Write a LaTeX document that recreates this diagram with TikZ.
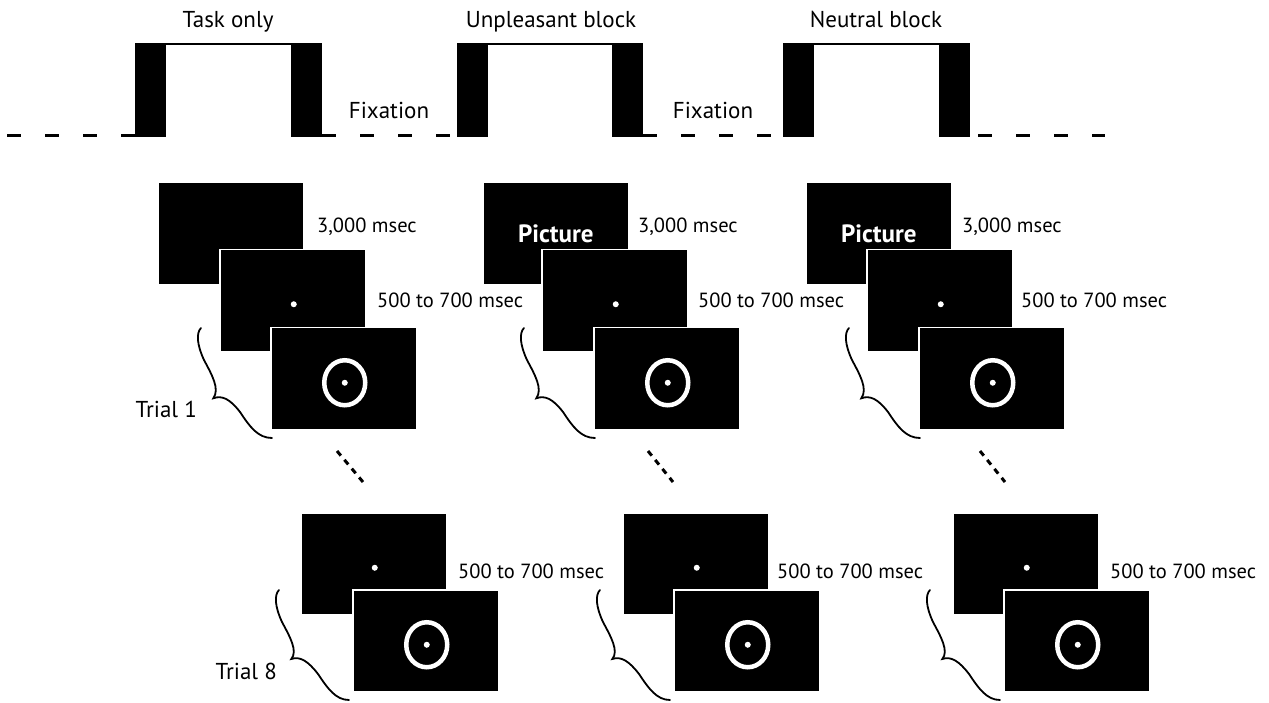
\documentclass[tikz,border=0pt]{standalone}
\usepackage{fontspec}
\setmainfont{PT Sans}
\usetikzlibrary{shapes.geometric}

\begin{document}
\begin{tikzpicture}[x=1pt, y=-1pt,
  screen/.style={draw=white, fill=black, line width=1.5, minimum width=146, minimum height=102, inner sep=0, anchor=north west},
  dot/.style={circle, fill=white, minimum size=6, inner sep=0},
  target/.style={ellipse, draw=white, line width=4.5, minimum width=41, minimum height=45, inner sep=0},
  bar/.style={fill=black, minimum width=31, minimum height=94, inner sep=0, anchor=south west},
  rest/.style={line width=3, dash pattern=on 14 off 24},
  trail/.style={line width=3, dash pattern=on 6 off 5.5},
  curly/.style={line width=1.8, line cap=round},
  head/.style={font=\fontsize{23}{25}\selectfont, inner sep=0, anchor=base},
  time/.style={font=\fontsize{20.5}{24}\selectfont, inner sep=0, anchor=base west},
  photo/.style={font=\fontsize{25}{26}\selectfont\bfseries, text=white}]
\useasboundingbox (0,0) rectangle (1269,703);

% block timeline
\node[bar] (t1) at (135,137) {};
\node[bar] (t2) at (291,137) {};
\node[bar] (u1) at (457,137) {};
\node[bar] (u2) at (612,137) {};
\node[bar] (n1) at (783,137) {};
\node[bar] (n2) at (939,137) {};
\coordinate (s) at (7,135.5);
\coordinate (e) at (1105,135.5);
\draw[line width=2.5] ([yshift=-1.25pt]t1.north) -- ([yshift=-1.25pt]t2.north);
\draw[line width=2.5] ([yshift=-1.25pt]u1.north) -- ([yshift=-1.25pt]u2.north);
\draw[line width=2.5] ([yshift=-1.25pt]n1.north) -- ([yshift=-1.25pt]n2.north);
\draw[rest] (s) -- ([yshift=1.5pt]t1.south west);
\draw[rest] ([yshift=1.5pt]t2.south east) -- ([yshift=1.5pt]u1.south west);
\draw[rest] ([yshift=1.5pt]u2.south east) -- ([yshift=1.5pt]n1.south west);
\draw[rest, dash phase=30] ([yshift=1.5pt]n2.south east) -- (e);
\node[head] (h1) at (228,28) {Task only};
\node[head] (h2) at (551,28) {Unpleasant block};
\node[head] (h3) at (876,28) {Neutral block};
\node[head] (f1) at (389,119) {Fixation};
\node[head] (f2) at (713,119) {Fixation};

% trial 1
\node[screen] (a1) at (157,182) {};
\node[screen] (a2) at (482,182) {};
\node[screen] (a3) at (805,182) {};
\node[photo] (p2) at (a2.center) {Picture};
\node[photo] (p3) at (a3.center) {Picture};
\node[screen] (b1) at (219,249) {};
\node[screen] (b2) at (541,249) {};
\node[screen] (b3) at (866,249) {};
\node[screen] (c1) at (270,327) {};
\node[screen] (c2) at (593,327) {};
\node[screen] (c3) at (918,327) {};
\node[dot] (b1d) at ([shift={(1pt,-3.5pt)}]b1.center) {};
\node[dot] (b2d) at ([shift={(1pt,-3.5pt)}]b2.center) {};
\node[dot] (b3d) at ([shift={(1pt,-3.5pt)}]b3.center) {};
\node[target] (c1t) at ([shift={(1pt,-4pt)}]c1.center) {};
\node[target] (c2t) at ([shift={(1pt,-4pt)}]c2.center) {};
\node[target] (c3t) at ([shift={(1pt,-4pt)}]c3.center) {};
\node[dot] (c1d) at (c1t) {};
\node[dot] (c2d) at (c2t) {};
\node[dot] (c3d) at (c3t) {};
\node[time] (l1) at (317,233) {3,000 msec};
\node[time] (l2) at (638,233) {3,000 msec};
\node[time] (l3) at (962,233) {3,000 msec};
\node[time] (m1) at (377,308) {500 to 700 msec};
\node[time] (m2) at (698,308) {500 to 700 msec};
\node[time] (m3) at (1021,308) {500 to 700 msec};
\node[head, anchor=base east] (tr1) at (197,417) {Trial 1};

% trial 8
\node[screen] (d1) at (300,512) {};
\node[screen] (d2) at (622,512) {};
\node[screen] (d3) at (952,512) {};
\node[screen] (e1) at (352,589) {};
\node[screen] (e2) at (673,589) {};
\node[screen] (e3) at (1003,589) {};
\node[dot] (d1d) at ([shift={(1pt,-4pt)}]d1.center) {};
\node[dot] (d2d) at ([shift={(1pt,-4pt)}]d2.center) {};
\node[dot] (d3d) at ([shift={(1pt,-4pt)}]d3.center) {};
\node[target] (e1t) at ([shift={(1pt,-4pt)}]e1.center) {};
\node[target] (e2t) at ([shift={(1pt,-4pt)}]e2.center) {};
\node[target] (e3t) at ([shift={(1pt,-4pt)}]e3.center) {};
\node[dot] (e1d) at (e1t) {};
\node[dot] (e2d) at (e2t) {};
\node[dot] (e3d) at (e3t) {};
\node[time] (k1) at (458,578) {500 to 700 msec};
\node[time] (k2) at (777,578) {500 to 700 msec};
\node[time] (k3) at (1110,578) {500 to 700 msec};
\node[head, anchor=base east] (tr8) at (277,679) {Trial 8};

% skipped trials
\coordinate (g1) at (337,451);
\coordinate (g2) at (648,451);
\coordinate (g3) at (980,451);
\coordinate (j1) at (363,482);
\coordinate (j2) at (673,482);
\coordinate (j3) at (1005,482);
\draw[trail] (g1) -- (j1);
\draw[trail] (g2) -- (j2);
\draw[trail] (g3) -- (j3);

% braces
\draw[curly, shift={(c1.north west)}] (-69,1) .. controls (-74,6) and (-73,18) .. (-66,33) .. controls (-58,48) and (-50,62) .. (-56.7,71.3) .. controls (-48,68) and (-40,72) .. (-30,85) .. controls (-20,100) and (-12,111) .. (2,111);
\draw[curly, shift={(c2.north west)}] (-69,1) .. controls (-74,6) and (-73,18) .. (-66,33) .. controls (-58,48) and (-50,62) .. (-56.7,71.3) .. controls (-48,68) and (-40,72) .. (-30,85) .. controls (-20,100) and (-12,111) .. (2,111);
\draw[curly, shift={(c3.north west)}] (-69,1) .. controls (-74,6) and (-73,18) .. (-66,33) .. controls (-58,48) and (-50,62) .. (-56.7,71.3) .. controls (-48,68) and (-40,72) .. (-30,85) .. controls (-20,100) and (-12,111) .. (2,111);
\draw[curly, shift={(e1.north west)}] (-73,1) .. controls (-78,6) and (-77,18) .. (-70,33) .. controls (-62,48) and (-54,62) .. (-60.7,70) .. controls (-52,67) and (-44,72) .. (-34,85) .. controls (-24,100) and (-16,111) .. (-3,111);
\draw[curly, shift={(e2.north west)}] (-73,1) .. controls (-78,6) and (-77,18) .. (-70,33) .. controls (-62,48) and (-54,62) .. (-60.7,70) .. controls (-52,67) and (-44,72) .. (-34,85) .. controls (-24,100) and (-16,111) .. (-3,111);
\draw[curly, shift={(e3.north west)}] (-73,1) .. controls (-78,6) and (-77,18) .. (-70,33) .. controls (-62,48) and (-54,62) .. (-60.7,70) .. controls (-52,67) and (-44,72) .. (-34,85) .. controls (-24,100) and (-16,111) .. (-3,111);
\end{tikzpicture}
\end{document}
